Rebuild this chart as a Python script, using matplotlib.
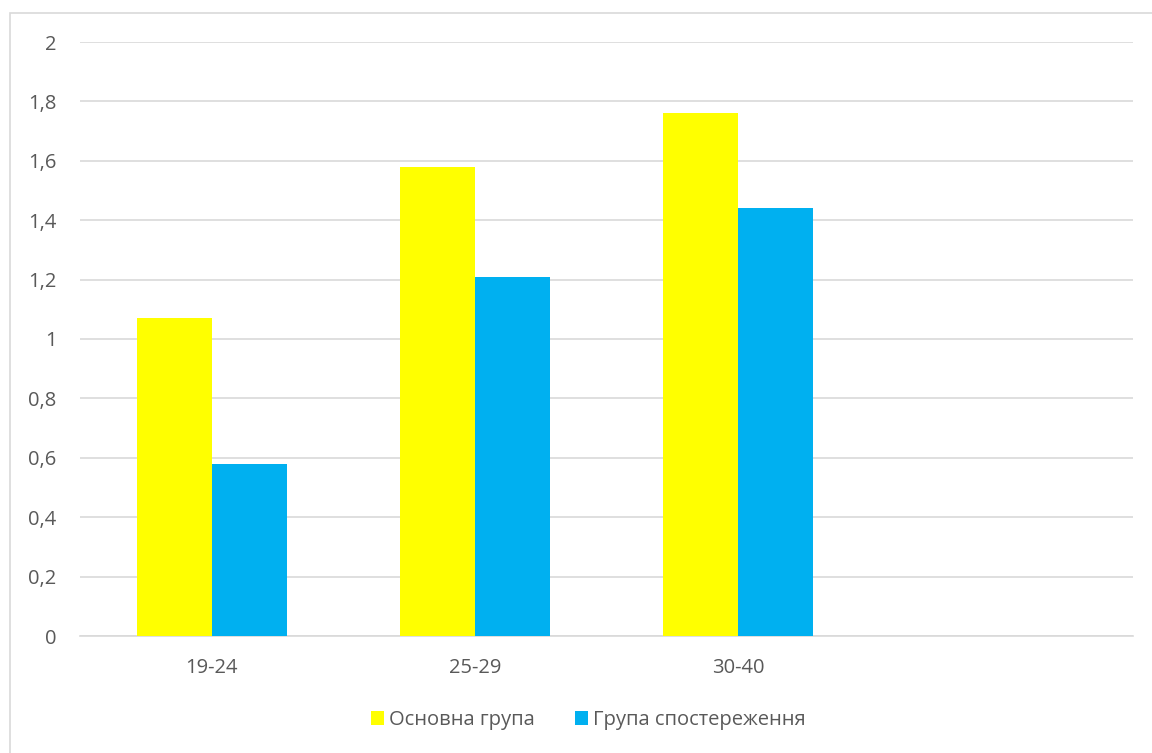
import matplotlib
matplotlib.use("Agg")
import matplotlib.pyplot as plt
from matplotlib.patches import Rectangle
import numpy as np

categories = ["19-24", "25-29", "30-40", ""]
main_group = [1.07, 1.58, 1.76, np.nan]
observed_group = [0.58, 1.21, 1.44, np.nan]
series_names = ["Основна група", "Група спостереження"]
y_ticks = [0, 0.2, 0.4, 0.6, 0.8, 1.0, 1.2, 1.4, 1.6, 1.8, 2.0]

plt.rcParams["font.family"] = ["Open Sans", "DejaVu Sans"]
text_color = "#595959"
grid_color = "#d9d9d9"
fs = 14.5

fig = plt.figure(figsize=(11.52, 7.53), dpi=100)
fig.patch.set_facecolor("white")
fig.patches.append(Rectangle((10 / 1152, -0.1), 1.2, (753 - 13) / 753 + 0.1,
                             transform=fig.transFigure, fill=False,
                             edgecolor=grid_color, linewidth=1.2))

ax = fig.add_axes([80 / 1152, (753 - 636) / 753, (1133 - 80) / 1152, (636 - 42) / 753])
x = np.arange(len(categories))
w = 0.285
ax.bar(x - w / 2, main_group, width=w, color="#ffff00", label=series_names[0], zorder=3)
ax.bar(x + w / 2, observed_group, width=w, color="#00b0f0", label=series_names[1], zorder=3)

ax.set_xlim(-0.5, len(categories) - 0.5)
ax.set_ylim(0, 2)
ax.set_yticks(y_ticks)
ax.set_yticklabels([("%g" % v).replace(".", ",") for v in y_ticks])
ax.set_xticks(x)
ax.set_xticklabels(categories)
ax.yaxis.grid(True, color=grid_color, linewidth=1.2, zorder=0)
ax.set_axisbelow(True)
for s in ["top", "right", "left"]:
    ax.spines[s].set_visible(False)
ax.spines["bottom"].set_color(grid_color)
ax.spines["bottom"].set_linewidth(1.2)
ax.tick_params(axis="both", length=0, colors=text_color, labelsize=fs)
ax.tick_params(axis="y", pad=17)
ax.tick_params(axis="x", pad=16)

leg = fig.legend(loc="center", bbox_to_anchor=(588 / 1152, 1 - 720 / 753), ncol=2,
                 frameon=False, fontsize=fs, handlelength=0.65, handleheight=0.65,
                 handletextpad=0.25, columnspacing=2.0)
for t in leg.get_texts():
    t.set_color(text_color)

fig.savefig("out.png", dpi=100)
